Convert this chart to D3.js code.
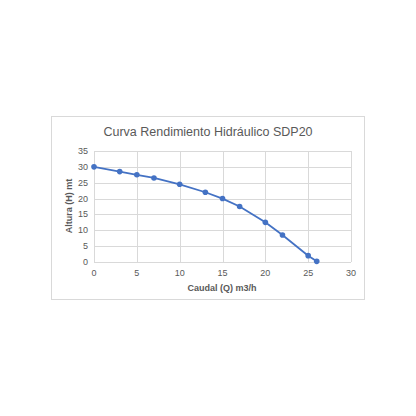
<!DOCTYPE html>
<html>
<head>
<meta charset="utf-8">
<script src="https://cdn.jsdelivr.net/npm/d3@7"></script>
<style>
  body { margin: 0; background: #fff; }
  svg { display: block; }
</style>
</head>
<body>
<div id="chart"></div>
<script>
var width = 416, height = 416;

// caudal (m3/h) and altura (m)
var caudal = [0, 3, 5, 7, 10, 13, 15, 17, 20, 22, 25, 26];
var altura = [30, 28.5, 27.5, 26.5, 24.5, 22, 20, 17.5, 12.5, 8.5, 2, 0.2];
var xTicks = [0, 5, 10, 15, 20, 25, 30];
var yTicks = [0, 5, 10, 15, 20, 25, 30, 35];

var font = "'Liberation Sans', Arial, sans-serif";

var svg = d3.select("#chart")
            .append("svg")
            .attr("width", width)
            .attr("height", height);

// chart frame
svg.append("rect")
   .attr("x", 51.5).attr("y", 116.5)
   .attr("width", 313).attr("height", 183)
   .attr("fill", "#fff")
   .attr("stroke", "#d9d9d9");

var x = d3.scaleLinear().domain([0, 30]).range([94, 351]);
var y = d3.scaleLinear().domain([0, 35]).range([262, 151]);

// grid
svg.selectAll(".hgrid")
   .data(yTicks)
   .enter()
   .append("line")
   .attr("x1", x(0)).attr("x2", x(30))
   .attr("y1", d => Math.round(y(d)) + 0.5)
   .attr("y2", d => Math.round(y(d)) + 0.5)
   .attr("stroke", "#d9d9d9").attr("stroke-width", 1);

svg.selectAll(".vgrid")
   .data(xTicks)
   .enter()
   .append("line")
   .attr("x1", d => Math.round(x(d)) + 0.5)
   .attr("x2", d => Math.round(x(d)) + 0.5)
   .attr("y1", y(35)).attr("y2", y(0))
   .attr("stroke", "#d9d9d9").attr("stroke-width", 1);

// tick labels
svg.selectAll(".ytick")
   .data(yTicks)
   .enter()
   .append("text")
   .attr("x", 88)
   .attr("y", d => y(d) + 3)
   .attr("text-anchor", "end")
   .attr("font-family", font)
   .attr("font-size", 9)
   .attr("fill", "#595959")
   .text(d => d);

svg.selectAll(".xtick")
   .data(xTicks)
   .enter()
   .append("text")
   .attr("x", d => x(d))
   .attr("y", 276)
   .attr("text-anchor", "middle")
   .attr("font-family", font)
   .attr("font-size", 9)
   .attr("fill", "#595959")
   .text(d => d);

// titles
svg.append("text")
   .attr("x", 208).attr("y", 136)
   .attr("text-anchor", "middle")
   .attr("font-family", font)
   .attr("font-size", 12.5)
   .attr("fill", "#595959")
   .text("Curva Rendimiento Hidráulico SDP20");

svg.append("text")
   .attr("x", 222).attr("y", 291)
   .attr("text-anchor", "middle")
   .attr("font-family", font)
   .attr("font-size", 9)
   .attr("font-weight", "bold")
   .attr("fill", "#595959")
   .text("Caudal (Q) m3/h");

svg.append("text")
   .attr("transform", "translate(72,206) rotate(-90)")
   .attr("text-anchor", "middle")
   .attr("font-family", font)
   .attr("font-size", 9)
   .attr("font-weight", "bold")
   .attr("fill", "#595959")
   .text("Altura (H) mt");

// curve
var pts = caudal.map((c, i) => [c, altura[i]]);

var line = d3.line()
             .x(d => x(d[0]))
             .y(d => y(d[1]));

svg.append("path")
   .datum(pts)
   .attr("d", line)
   .attr("fill", "none")
   .attr("stroke", "#4472c4")
   .attr("stroke-width", 1.8);

svg.selectAll(".pt")
   .data(pts)
   .enter()
   .append("circle")
   .attr("cx", d => x(d[0]))
   .attr("cy", d => y(d[1]))
   .attr("r", 2.8)
   .attr("fill", "#4472c4");
</script>
</body>
</html>
